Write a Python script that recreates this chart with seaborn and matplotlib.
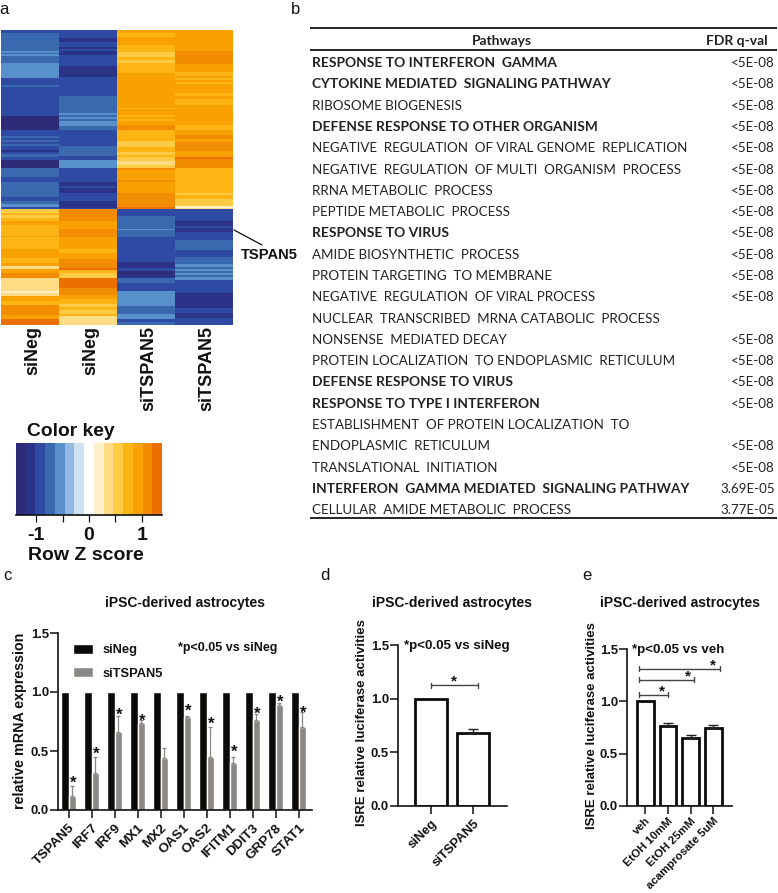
import numpy as np
import pandas as pd
import matplotlib
matplotlib.use('Agg')
import matplotlib.pyplot as plt
import seaborn as sns
from matplotlib.colors import ListedColormap
from matplotlib.transforms import ScaledTranslation

W, H = 778, 893

# --- panel a: colour bin of each stripe, and how many image rows it covers
key_colors = ['#2E2B78', '#2B3389', '#2E4AA3', '#3A69B0', '#5890CB', '#93B9E2', '#CFE0F3', '#FFFFFF',
              '#FFF0CC', '#FFDC85', '#FFCB45', '#FDB515', '#F9A100', '#F28C00', '#EC7000']
sample_names = ['siNeg', 'siNeg', 'siTSPAN5', 'siTSPAN5']

col1_levels = [2, 3, 4, 3, 4, 3, 4, 4, 2, 3, 2, 0, 2, 3, 2, 3, 2, 3, 2, 1, 2, 3, 2, 0, 3, 2, 3, 2, 3, 4, 2,
               10, 11, 10, 11, 12, 11, 12, 11, 12, 11, 12, 9, 12, 13, 9, 8, 9, 12, 11, 13, 12, 14]
col1_counts = [3, 18, 2, 1, 2, 7, 2, 13, 7, 2, 29, 14, 6, 2, 2, 2, 2, 2, 4, 2, 2, 3, 3, 8, 9, 5, 15, 4, 3, 3, 2,
               4, 2, 3, 3, 4, 11, 1, 12, 9, 5, 3, 3, 4, 5, 13, 2, 3, 5, 4, 10, 4, 6]
col2_levels = [2, 1, 2, 1, 2, 1, 2, 2, 1, 2, 3, 4, 3, 4, 3, 4, 3, 2, 3, 2, 4, 2, 1, 2, 1, 2, 1, 2,
               13, 12, 13, 12, 11, 12, 13, 13, 14, 11, 10, 14, 13, 12, 11, 10, 11, 10, 11, 9, 9]
col2_counts = [8, 4, 5, 2, 2, 4, 2, 9, 11, 19, 17, 2, 2, 2, 2, 5, 4, 16, 10, 4, 8, 14, 4, 2, 5, 8, 7, 1,
               12, 8, 8, 12, 4, 6, 5, 4, 2, 3, 5, 10, 7, 4, 5, 3, 3, 4, 2, 4, 5]
col3_levels = [12, 11, 12, 11, 10, 11, 10, 11, 12, 11, 12, 11, 12, 11, 12, 13, 11, 10, 11, 10, 11, 10, 9, 10,
               13, 12, 13, 12, 13, 14,
               2, 3, 4, 3, 2, 1, 2, 0, 1, 3, 2, 4, 4, 3, 4, 2, 3]
col3_counts = [3, 4, 8, 7, 5, 3, 3, 10, 35, 1, 6, 2, 2, 2, 4, 5, 11, 6, 5, 3, 2, 4, 4, 3,
               2, 10, 2, 11, 14, 2,
               7, 13, 1, 7, 25, 6, 3, 3, 4, 5, 8, 13, 2, 8, 5, 3, 3]
col4_levels = [12, 13, 13, 12, 11, 12, 11, 12, 11, 12, 11, 12, 11, 12,
               11, 12, 13, 12, 13, 12, 14, 13, 13, 11, 10, 11, 10, 8, 9,
               2, 1, 2, 1, 2, 3, 2, 3, 4, 3, 4, 3, 4, 3, 4, 2, 1, 2, 1, 2]
col4_counts = [21, 5, 8, 8, 4, 2, 2, 2, 2, 9, 3, 3, 6, 20,
               5, 5, 4, 3, 9, 6, 2, 5, 4, 25, 2, 4, 7, 2, 1,
               12, 5, 2, 4, 8, 10, 7, 7, 3, 2, 2, 2, 2, 2, 3, 13, 15, 5, 5, 7]

key_ticks = [-1, -0.5, 0, 0.5, 1]
key_ticklabels = ['-1', '', '0', '', '1']
key_range = 1.38

# --- panel b
pathways = ['RESPONSE TO INTERFERON  GAMMA', 'CYTOKINE MEDIATED  SIGNALING PATHWAY', 'RIBOSOME BIOGENESIS',
            'DEFENSE RESPONSE TO OTHER ORGANISM', 'NEGATIVE  REGULATION  OF VIRAL GENOME  REPLICATION',
            'NEGATIVE  REGULATION  OF MULTI  ORGANISM  PROCESS', 'RRNA METABOLIC  PROCESS',
            'PEPTIDE METABOLIC  PROCESS', 'RESPONSE TO VIRUS', 'AMIDE BIOSYNTHETIC  PROCESS',
            'PROTEIN TARGETING  TO MEMBRANE', 'NEGATIVE  REGULATION  OF VIRAL PROCESS',
            'NUCLEAR  TRANSCRIBED  MRNA CATABOLIC  PROCESS', 'NONSENSE  MEDIATED DECAY',
            'PROTEIN LOCALIZATION  TO ENDOPLASMIC  RETICULUM', 'DEFENSE RESPONSE TO VIRUS',
            'RESPONSE TO TYPE I INTERFERON', 'ESTABLISHMENT  OF PROTEIN LOCALIZATION  TO',
            'ENDOPLASMIC  RETICULUM', 'TRANSLATIONAL  INITIATION',
            'INTERFERON  GAMMA MEDIATED  SIGNALING PATHWAY', 'CELLULAR  AMIDE METABOLIC  PROCESS']
qvals = ['<5E-08', '<5E-08', '<5E-08', '<5E-08', '<5E-08', '<5E-08', '<5E-08', '<5E-08', '<5E-08', '<5E-08',
         '<5E-08', '<5E-08', '', '<5E-08', '<5E-08', '<5E-08', '<5E-08', '', '<5E-08', '<5E-08',
         '3.69E-05', '3.77E-05']
bold_rows = [0, 1, 3, 8, 15, 16, 20]

# --- panel c
genes = ['TSPAN5', 'IRF7', 'IRF9', 'MX1', 'MX2', 'OAS1', 'OAS2', 'IFITM1', 'DDIT3', 'GRP78', 'STAT1']
sineg_expr = [1, 1, 1, 1, 1, 1, 1, 1, 1, 1, 1]
sitspan5_expr = [0.12, 0.31, 0.66, 0.74, 0.44, 0.79, 0.45, 0.40, 0.76, 0.89, 0.70]
sitspan5_err = [0.08, 0.14, 0.14, 0.02, 0.085, 0.005, 0.25, 0.05, 0.055, 0.02, 0.13]
star_heights = [0.27, 0.514, 0.84, 0.79, None, 0.875, 0.77, 0.53, 0.855, 0.955, 0.865]

# --- panel d
d_names = ['siNeg', 'siTSPAN5']
d_values = [1.0, 0.68]
d_err = [0, 0.035]

# --- panel e
e_names = ['veh', 'EtOH 10mM', 'EtOH 25mM', 'acamprosate 5uM']
e_values = [1.0, 0.765, 0.65, 0.745]
e_err = [0, 0.025, 0.025, 0.025]

sns.set_theme(style='ticks', rc={'axes.linewidth': 1.2, 'xtick.major.width': 1.1, 'ytick.major.width': 1.1,
                                 'xtick.major.size': 5.5, 'ytick.major.size': 5.5,
                                 'axes.edgecolor': '#111111', 'text.color': '#111111',
                                 'xtick.color': '#111111', 'ytick.color': '#111111'})
plt.rcParams['font.family'] = ['Liberation Sans', 'DejaVu Sans']

fig = plt.figure(figsize=(W / 100, H / 100), dpi=100)


def box(left, top, right, bottom):
    return fig.add_axes([left / W, 1 - bottom / H, (right - left) / W, (bottom - top) / H])


def put(x, y, s, **kw):
    kw.setdefault('ha', 'center')
    kw.setdefault('va', 'center')
    fig.text(x / W, 1 - y / H, s, **kw)


for letter, x, y in [('a', 4, 9), ('b', 296, 9), ('c', 7, 576), ('d', 325, 576), ('e', 587, 576)]:
    put(x, y, letter, fontsize=12)

# heatmap
matrix = np.column_stack([np.repeat(col1_levels, col1_counts), np.repeat(col2_levels, col2_counts),
                          np.repeat(col3_levels, col3_counts), np.repeat(col4_levels, col4_counts)])
cmap = ListedColormap(key_colors)
ax = box(1, 30, 233, 325)
sns.heatmap(matrix, ax=ax, cmap=cmap, vmin=-0.5, vmax=14.5, cbar=False, yticklabels=False,
            xticklabels=sample_names)
ax.tick_params(axis='x', length=0, pad=1)
nudge = ScaledTranslation(3 / 100, 0, fig.dpi_scale_trans)
for lab in ax.get_xticklabels():
    lab.set(rotation=90, fontsize=13, fontweight='bold', va='top', ha='center')
    lab.set_transform(lab.get_transform() + nudge)
fig.add_artist(plt.Line2D([234 / W, 262 / W], [1 - 230 / H, 1 - 245 / H], color='#111111', lw=0.9))
put(269, 255, 'TSPAN5', fontsize=10.6, fontweight='bold')

# colour key
put(71, 431, 'Color key', fontsize=13.9, fontweight='bold')
ax = box(16, 443, 162, 515)
sns.heatmap([list(range(len(key_colors)))], ax=ax, cmap=cmap, vmin=-0.5, vmax=14.5, cbar=False, yticklabels=False)
ax.set_xticks([(z + key_range) / (2 * key_range) * len(key_colors) for z in key_ticks])
ax.set_xticklabels(key_ticklabels, rotation=0, fontsize=14, fontweight='bold')
ax.tick_params(axis='x', length=5, width=0.9, pad=4)
ax.spines['bottom'].set_visible(True)
put(85.5, 555, 'Row Z score', fontsize=14, fontweight='bold')

# pathway table
ax = box(310, 0, 777, H)
ax.set_xlim(310, 777)
ax.set_ylim(H, 0)
ax.axis('off')
for y, lw in [(28, 1.4), (50, 1.4), (518, 1.4)]:
    ax.axhline(y, color='#222222', lw=lw)
tfont = {'family': 'Lato', 'color': '#222222'}
ax.text(502, 41, 'Pathways', ha='center', va='center', fontweight='bold', fontsize=10, **tfont)
ax.text(768, 41, 'FDR q-val', ha='right', va='center', fontweight='bold', fontsize=10, **tfont)
for i, (name, q) in enumerate(zip(pathways, qvals)):
    y = 63 + 21.3 * i
    if i in bold_rows:
        ax.text(312, y, name, ha='left', va='center', fontweight='bold', fontsize=9.9, **tfont)
    else:
        ax.text(312, y, name, ha='left', va='center', fontsize=9.65, **tfont)
    ax.text(775, y, q, ha='right', va='center', fontsize=9.65, **tfont)


def style_axis(ax, xfont, xpad=3):
    ax.set_ylim(0, 1.5)
    ax.set_yticks([0, 0.5, 1.0, 1.5])
    ax.set_yticklabels(['0.0', '0.5', '1.0', '1.5'], fontsize=9.4, fontweight='bold')
    ax.set_xlabel('')
    ax.set_ylabel('')
    ax.tick_params(axis='x', pad=xpad)
    ax.tick_params(axis='y', pad=1)
    plt.setp(ax.get_xticklabels(), rotation=45, ha='right', rotation_mode='anchor', fontsize=xfont, fontweight='bold')
    sns.despine(ax=ax)


# panel c
expr = pd.DataFrame({'gene': genes * 2, 'value': sineg_expr + sitspan5_expr,
                     'group': ['siNeg'] * len(genes) + ['siTSPAN5'] * len(genes)})
ax = box(58, 633, 312, 810)
sns.barplot(data=expr, x='gene', y='value', hue='group', palette=['#0A0A08', '#8B8784'], saturation=1,
            width=0.66, gap=0.04, errorbar=None, ax=ax)
ax.set_xlim(-0.465, 10.58)
style_axis(ax, 9.7)
grey_x = [p.get_x() + p.get_width() / 2 for p in ax.containers[1]]
ax.errorbar(grey_x, sitspan5_expr, yerr=[[0] * len(genes), sitspan5_err], fmt='none', ecolor='#8B8784',
            elinewidth=0.9, capsize=1.6, capthick=0.9)
for x, s in zip(grey_x, star_heights):
    if s is not None:
        ax.annotate('*', (x, s), xytext=(0.5, -3.5), textcoords='offset points', ha='center', va='center',
                    fontsize=12, fontweight='bold')
ax.legend(title=None, frameon=False, loc='upper left', bbox_to_anchor=(0.014, 1.005), handlelength=1.5,
          handleheight=0.8, labelspacing=0.85, handletextpad=0.8, prop={'weight': 'bold', 'size': 9.3})
put(228, 648, '*p<0.05 vs siNeg', fontsize=9, fontweight='bold')
put(185, 603, 'iPSC-derived astrocytes', fontsize=10, fontweight='bold')
put(20, 721, 'relative mRNA expression', fontsize=10.3, fontweight='bold', rotation=90)


def open_bars(ax, names, values, errs, width):
    sns.barplot(x=names, y=values, color='white', edgecolor='#0A0A08', linewidth=2, saturation=1, width=width,
                errorbar=None, ax=ax)
    xs = [p.get_x() + p.get_width() / 2 for p in ax.containers[0]]
    ax.errorbar(xs[1:], values[1:], yerr=[[0] * (len(xs) - 1), errs[1:]], fmt='none', ecolor='#222222',
                elinewidth=1, capsize=3.5, capthick=1)


def bracket(ax, x0, x1, y, star_x):
    ax.plot([x0, x1], [y, y], color='#444444', lw=1)
    for x in (x0, x1):
        ax.plot([x, x], [y - 0.025, y + 0.025], color='#444444', lw=1)
    ax.annotate('*', (star_x, y), xytext=(0, 2.5), textcoords='offset points', ha='center', va='center',
                fontsize=11, fontweight='bold')


# panel d
ax = box(398, 645, 507, 806)
open_bars(ax, d_names, d_values, d_err, 0.76)
ax.set_xlim(-0.786, 1.81)
style_axis(ax, 9.4)
bracket(ax, 0, 1.13, 1.125, 0.55)
put(457, 646, '*p<0.05 vs siNeg', fontsize=9.6, fontweight='bold')
put(452, 603, 'iPSC-derived astrocytes', fontsize=10, fontweight='bold')
put(362, 723, 'ISRE relative luciferase activities', fontsize=9.5, fontweight='bold', rotation=90)

# panel e
ax = box(627, 649, 732, 806)
open_bars(ax, e_names, e_values, e_err, 0.735)
ax.set_xlim(-0.80, 3.82)
style_axis(ax, 8.2, xpad=1.5)
bracket(ax, -0.29, 0.99, 1.064, 0.75)
bracket(ax, -0.29, 2.16, 1.208, 1.87)
bracket(ax, -0.29, 3.28, 1.313, 3.0)
put(678, 650, '*p<0.05 vs veh', fontsize=9.6, fontweight='bold')
put(680, 603, 'iPSC-derived astrocytes', fontsize=10, fontweight='bold')
put(592, 726, 'ISRE relative luciferase activities', fontsize=9.5, fontweight='bold', rotation=90)

fig.savefig('out.png', dpi=100)
